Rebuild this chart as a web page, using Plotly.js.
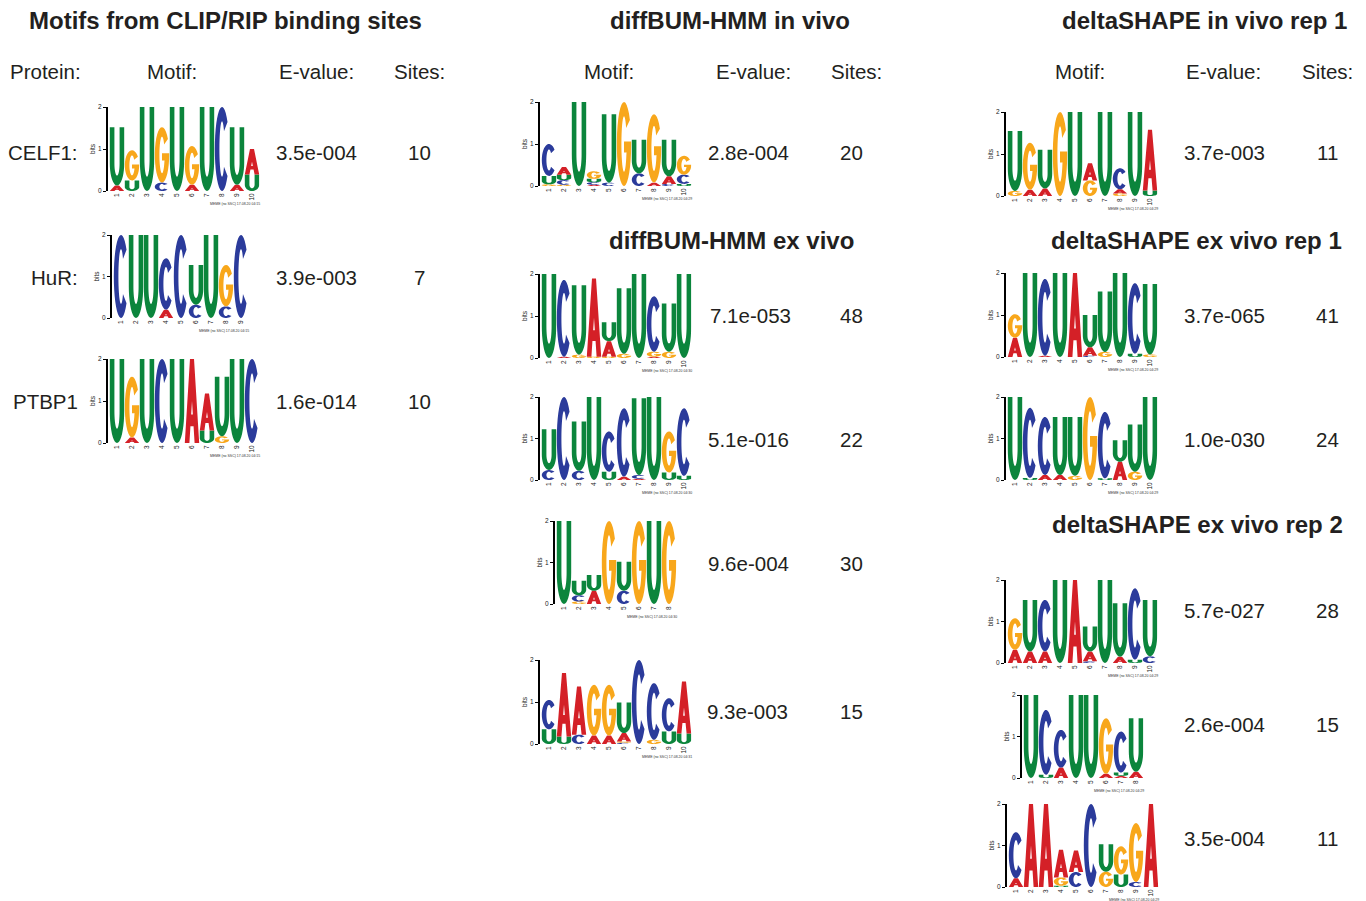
<!DOCTYPE html>
<html><head><meta charset="utf-8">
<script src="https://cdn.plot.ly/plotly-3.0.1.min.js"></script>
<style>html,body{margin:0;padding:0;background:#fff}</style>
</head><body><div id="chart" style="width:1366px;height:901px"></div>
<script>
// ---------------- DATA (letter heights in bits, per position) ----------------
const CELF1_A = [0.13,0,0,0,0,0.15,0,0,0.15,0.61];
const CELF1_C = [0,0,0,0.2,0,0,0,2.0,0,0];
const CELF1_G = [0,0.72,0,1.32,0,0.92,0,0,0,0];
const CELF1_U = [1.39,0.25,2.0,0,2.0,0,2.0,0,1.37,0.39];

const HUR_A = [0,0,0,0.2,0,0,0,0,0];
const HUR_C = [2.0,0,0,1.24,2.0,0.32,0,0.28,2.0];
const HUR_G = [0,0,0,0,0,0,0,1.0,0];
const HUR_U = [0,2.0,2.0,0,0,0.96,2.0,0,0];

const PTBP1_A = [0,0.13,0,0,0,2.0,0.88,0,0,0];
const PTBP1_C = [0,0,0,2.0,0,0,0,0,0,2.0];
const PTBP1_G = [0,1.45,0,0,0,0,0,0.16,0,0];
const PTBP1_U = [2.0,0,2.0,0,2.0,0,0.3,1.42,2.0,0];

const BUMIV_A = [0,0.18,0,0.03,0,0,0,0.08,0.18,0];
const BUMIV_C = [0.76,0.11,0,0.06,0.08,0,0.3,0,0.05,0.22];
const BUMIV_G = [0.04,0.03,0,0.18,0,2.0,0,1.63,0,0.45];
const BUMIV_U = [0.2,0.13,2.0,0.08,1.63,0,0.8,0,0.87,0.05];

const BUMEV1_A = [0,0.03,0,1.86,0.37,0,0,0.03,0,0];
const BUMEV1_C = [0,1.83,0,0,0,0,0,1.32,0,0];
const BUMEV1_G = [0,0,0.08,0.03,0.03,0.1,0,0.12,0.15,0];
const BUMEV1_U = [2.0,0,1.65,0,0.45,1.56,2.0,0,1.15,2.0];

const BUMEV2_A = [0,0,0,0,0,0.08,0.03,0,0,0];
const BUMEV2_C = [0.24,2.0,0.22,0,0.97,1.65,0.09,0,0,1.63];
const BUMEV2_G = [0,0,0,0,0,0,0,0,0.99,0];
const BUMEV2_U = [0.98,0,1.19,2.0,0.2,0,1.85,2.0,0.18,0.1];

const BUMEV3_A = [0,0,0.32,0,0,0,0,0];
const BUMEV3_C = [0,0.15,0,0,0.32,0,0,0];
const BUMEV3_G = [0,0.06,0,2.0,0,2.0,0,2.0];
const BUMEV3_U = [2.0,0.35,0.38,0,0.7,0,2.0,0];

const BUMEV4_A = [0,1.51,1.15,0.2,0.2,0.2,0,0,0,1.24];
const BUMEV4_C = [0.7,0,0.22,0,0,0.03,2.0,1.35,0.79,0];
const BUMEV4_G = [0,0,0,1.21,1.21,0.03,0,0.1,0,0];
const BUMEV4_U = [0.35,0.18,0,0,0,0.73,0,0,0.3,0.25];

const DSIV_A = [0,0.15,0.18,0,0,0.41,0,0.1,0,1.45];
const DSIV_C = [0,0,0,0,0,0,0,0.5,0,0];
const DSIV_G = [0.12,1.12,0,2.0,0,0.37,0,0.06,0,0];
const DSIV_U = [1.43,0,0.92,0,2.0,0,2.0,0,2.0,0.13];

const DSEV1A_A = [0.46,0,0.03,0,2.0,0.2,0,0,0,0];
const DSEV1A_C = [0,0,1.83,0,0,0.03,0,0,1.68,0];
const DSEV1A_G = [0.56,0,0,0,0,0,0.12,0,0,0.06];
const DSEV1A_U = [0,2.0,0,2.0,0,0.77,1.44,2.0,0.08,1.68];

const DSEV1B_A = [0,0,0.12,0.12,0,0,0,0.44,0,0];
const DSEV1B_C = [0,1.69,1.4,0,0,0,1.6,0,0,0];
const DSEV1B_G = [0,0,0,0,0.1,2.0,0,0,0.2,0];
const DSEV1B_U = [2.0,0.05,0,1.4,1.42,0,0.04,0.52,1.14,2.0];

const DSEV2A_A = [0.32,0.28,0.28,0,2.0,0.24,0,0.15,0,0];
const DSEV2A_C = [0,0,1.24,0,0,0.04,0,0,1.72,0.16];
const DSEV2A_G = [0.76,0,0,0,0,0,0,0,0,0];
const DSEV2A_U = [0,1.24,0,2.0,0,0.6,2.0,1.29,0.08,1.36];

const DSEV2B_A = [0,0,0.25,0,0,0.1,0.05,0.15];
const DSEV2B_C = [0,1.56,0.91,0,0,0,0.99,0];
const DSEV2B_G = [0,0,0,0,0,1.34,0,0];
const DSEV2B_U = [2.0,0.08,0,2.0,2.0,0,0.08,1.29];

const DSEV2C_A = [0.21,2.0,2.0,0.67,0.52,0,0,0,0,2.0];
const DSEV2C_C = [1.11,0,0,0,0.36,2.0,0,0,0.12,0];
const DSEV2C_G = [0,0,0,0.2,0,0,0.37,0.68,1.42,0];
const DSEV2C_U = [0,0,0,0.03,0,0,0.66,0.3,0,0];

const motifs = [
  {A:CELF1_A,C:CELF1_C,G:CELF1_G,U:CELF1_U, meme:'MEME (no SSC) 17.08.20 04:15'},
  {A:HUR_A,C:HUR_C,G:HUR_G,U:HUR_U, meme:'MEME (no SSC) 17.08.20 04:15'},
  {A:PTBP1_A,C:PTBP1_C,G:PTBP1_G,U:PTBP1_U, meme:'MEME (no SSC) 17.08.20 04:15'},
  {A:BUMIV_A,C:BUMIV_C,G:BUMIV_G,U:BUMIV_U, meme:'MEME (no SSC) 17.08.20 04:29'},
  {A:BUMEV1_A,C:BUMEV1_C,G:BUMEV1_G,U:BUMEV1_U, meme:'MEME (no SSC) 17.08.20 04:30'},
  {A:BUMEV2_A,C:BUMEV2_C,G:BUMEV2_G,U:BUMEV2_U, meme:'MEME (no SSC) 17.08.20 04:30'},
  {A:BUMEV3_A,C:BUMEV3_C,G:BUMEV3_G,U:BUMEV3_U, meme:'MEME (no SSC) 17.08.20 04:30'},
  {A:BUMEV4_A,C:BUMEV4_C,G:BUMEV4_G,U:BUMEV4_U, meme:'MEME (no SSC) 17.08.20 04:31'},
  {A:DSIV_A,C:DSIV_C,G:DSIV_G,U:DSIV_U, meme:'MEME (no SSC) 17.08.20 04:29'},
  {A:DSEV1A_A,C:DSEV1A_C,G:DSEV1A_G,U:DSEV1A_U, meme:'MEME (no SSC) 17.08.20 04:29'},
  {A:DSEV1B_A,C:DSEV1B_C,G:DSEV1B_G,U:DSEV1B_U, meme:'MEME (no SSC) 17.08.20 04:29'},
  {A:DSEV2A_A,C:DSEV2A_C,G:DSEV2A_G,U:DSEV2A_U, meme:'MEME (no SSC) 17.08.20 04:29'},
  {A:DSEV2B_A,C:DSEV2B_C,G:DSEV2B_G,U:DSEV2B_U, meme:'MEME (no SSC) 17.08.20 04:29'},
  {A:DSEV2C_A,C:DSEV2C_C,G:DSEV2C_G,U:DSEV2C_U, meme:'MEME (no SSC) 17.08.20 04:29'}
];

// text content
const titles = ['Motifs from CLIP/RIP binding sites','diffBUM-HMM in vivo','deltaSHAPE in vivo rep 1',
                'diffBUM-HMM ex vivo','deltaSHAPE ex vivo rep 1','deltaSHAPE ex vivo rep 2'];
const headersClip = ['Protein:','Motif:','E-value:','Sites:'];
const headersOther = ['Motif:','E-value:','Sites:'];
const proteins = ['CELF1:','HuR:','PTBP1'];
const evalClip = ['3.5e-004','3.9e-003','1.6e-014'];
const sitesClip = ['10','7','10'];
const evalBumIV = ['2.8e-004'];
const sitesBumIV = ['20'];
const evalBumEV = ['7.1e-053','5.1e-016','9.6e-004','9.3e-003'];
const sitesBumEV = ['48','22','30','15'];
const evalDsIV = ['3.7e-003'];
const sitesDsIV = ['11'];
const evalDsEV1 = ['3.7e-065','1.0e-030'];
const sitesDsEV1 = ['41','24'];
const evalDsEV2 = ['5.7e-027','2.6e-004','3.5e-004'];
const sitesDsEV2 = ['28','15','11'];

// ---------------- LAYOUT GEOMETRY (pixels) ----------------
const W = 1366, H = 901, STEP = 15;
const boxes = [
  {ax:108,y0:191,y2:107},{ax:112,y0:318,y2:235},{ax:108,y0:443,y2:359},
  {ax:540,y0:186,y2:102},{ax:540,y0:358,y2:274},{ax:540,y0:480,y2:397},
  {ax:555,y0:604,y2:521},{ax:540,y0:744,y2:660},
  {ax:1006,y0:196,y2:112},{ax:1006,y0:357,y2:273},{ax:1006,y0:480,y2:397},
  {ax:1006,y0:663,y2:580},{ax:1022,y0:778,y2:695},{ax:1007,y0:887,y2:804}
];
const COLORS = {A:'#d42027', C:'#2b3b9b', G:'#f8a71b', U:'#0b853c'};
const FONT = 'Liberation Sans, Arial, sans-serif';

// ---------------- GLYPHS (unit box) ----------------
function arc(cx,cy,rx,ry,a0,a1,n){
  const pts=[];
  for(let k=0;k<=n;k++){const a=(a0+(a1-a0)*k/n)*Math.PI/180;pts.push([cx+rx*Math.cos(a),cy+ry*Math.sin(a)]);}
  return pts;
}
const S=0.32, T=0.17;
function glyph(L){
  if(L==='A'){
    return [[[0,0],[0.36,1],[0.64,1],[1,0],[0.68,0],[0.608,0.2],[0.392,0.2],[0.32,0]],
            [[0.442,0.34],[0.5,0.5],[0.558,0.34]]];
  }
  if(L==='C'){
    return [arc(.5,.5,.5,.5,40,320,30).concat(arc(.5,.5,.5-S,.5-T,320,40,30))];
  }
  if(L==='G'){
    return [arc(.5,.5,.5,.5,35,360,30).concat([[1,0.53],[0.5,0.53],[0.5,0.40],[0.68,0.40]])
            .concat(arc(.5,.5,.5-S,.5-T,340,35,30))];
  }
  // U
  return [[[0,1],[0,0.38]].concat(arc(.5,.38,.5,.38,180,360,20))
          .concat([[1,1],[1-S,1],[1-S,0.38]]).concat(arc(.5,.38,.5-S,.38-T,360,180,20))
          .concat([[S,0.38],[S,1]])];
}

// ---------------- BUILD ----------------
const layout = {width:W,height:H,margin:{l:0,r:0,t:0,b:0},paper_bgcolor:'#fff',plot_bgcolor:'rgba(0,0,0,0)',
  showlegend:false,shapes:[],annotations:[],font:{family:FONT,color:'#231f20'}};
const data = [];

motifs.forEach((m,k)=>{
  const n = m.A.length, b = boxes[k], id = k===0?'':String(k+1);
  const xr='x'+id, yr='y'+id;
  const right = b.ax+(n+0.1)*STEP;
  const pos = Array.from({length:n},(_,i)=>i+1);
  layout['xaxis'+id] = {domain:[b.ax/W, right/W], range:[0.4,n+0.5], anchor:yr, showgrid:false, zeroline:false,
    showline:false, ticks:'', tickmode:'array', tickvals:pos, ticktext:pos.map(String), tickangle:-90,
    tickfont:{size:6.5,family:FONT,color:'#222'}, fixedrange:true};
  layout['yaxis'+id] = {domain:[1-b.y0/H, 1-b.y2/H], range:[0,2], anchor:xr, showgrid:false, zeroline:false,
    showline:true, linecolor:'#000', linewidth:2, ticks:'outside', ticklen:3, tickwidth:1, tickcolor:'#000',
    tickmode:'array', tickvals:[0,1,2], tickfont:{size:6.5,family:FONT,color:'#222'},
    title:{text:'bits', font:{size:6.5,family:FONT,color:'#222'}, standoff:2}, fixedrange:true};
  const totals = pos.map((p,i)=>m.A[i]+m.C[i]+m.G[i]+m.U[i]);
  data.push({type:'scatter',x:pos,y:totals,xaxis:xr,yaxis:yr,mode:'markers',marker:{opacity:0},hoverinfo:'skip'});
  pos.forEach((p,i)=>{
    const stack = ['A','C','G','U'].map(L=>[L,m[L][i]]).filter(d=>d[1]>0.005).sort((a,b)=>a[1]-b[1]);
    let base = 0;
    stack.forEach(([L,h])=>{
      const path = glyph(L).map(poly=>'M'+poly.map(([gx,gy])=>
        (p-0.48+0.96*gx).toFixed(4)+','+(base+h*gy).toFixed(4)).join('L')+'Z').join(' ');
      layout.shapes.push({type:'path',xref:xr,yref:yr,path:path,fillcolor:COLORS[L],line:{width:0},fillrule:'evenodd',layer:'above'});
      base += h;
    });
  });
  layout.annotations.push({xref:'paper',yref:'paper',x:(right+2)/W,y:1-(b.y0+13)/H,xanchor:'right',yanchor:'middle',
    text:m.meme,showarrow:false,font:{size:3.5,family:FONT,color:'#333'}});
});

function txt(t,x,y,size,anchor){
  layout.annotations.push({xref:'paper',yref:'paper',x:x/W,y:1-y/H,xanchor:anchor||'center',yanchor:'middle',
    text:t,showarrow:false,font:{size:size,family:FONT,color:'#231f20'}});
}
// titles
[[225,20],[730,20],[1204,20],[731,241],[1196,241],[1197,524]].forEach((p,i)=>txt('<b>'+titles[i]+'</b>',p[0],p[1],24));
// headers
[45,172,316,419].forEach((x,i)=>txt(headersClip[i],x,71,20.5));
[609,753,856].forEach((x,i)=>txt(headersOther[i],x,71,20.5));
[1080,1223,1327].forEach((x,i)=>txt(headersOther[i],x,71,20.5));
// rows
const FS = 20.5;
[153,277,401].forEach((y,i)=>{txt(proteins[i],80,y,FS,'right');txt(evalClip[i],316,y,FS);txt(sitesClip[i],419,y,FS);});
txt(evalBumIV[0],748,153,FS); txt(sitesBumIV[0],851,153,FS);
[315,439,563,711].forEach((y,i)=>{txt(evalBumEV[i],[750,748,748,747][i],y,FS);txt(sitesBumEV[i],851,y,FS);});
txt(evalDsIV[0],1224,153,FS); txt(sitesDsIV[0],1327,153,FS);
[315,439].forEach((y,i)=>{txt(evalDsEV1[i],1224,y,FS);txt(sitesDsEV1[i],1327,y,FS);});
[610,724,838].forEach((y,i)=>{txt(evalDsEV2[i],1224,y,FS);txt(sitesDsEV2[i],1327,y,FS);});

Plotly.newPlot('chart',data,layout,{staticPlot:true,displayModeBar:false});
</script></body></html>
